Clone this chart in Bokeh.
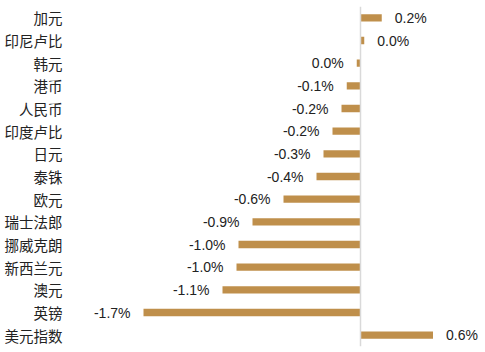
from bokeh.plotting import figure
from bokeh.models import ColumnDataSource, FactorRange, Range1d, Span
from bokeh.core.properties import value
from bokeh.embed import file_html
from bokeh.resources import INLINE

categories = ["加元", "印尼卢比", "韩元", "港币", "人民币", "印度卢比", "日元", "泰铢",
              "欧元", "瑞士法郎", "挪威克朗", "新西兰元", "澳元", "英镑", "美元指数"]
changes = [0.17, 0.03, -0.03, -0.11, -0.152, -0.224, -0.296, -0.352,
           -0.616, -0.864, -0.976, -0.992, -1.104, -1.736, 0.58]


def fmt(v):
    s = f"{v:.1f}"
    if s == "-0.0":
        s = "0.0"
    return s + "%"


labels = [fmt(v) for v in changes]
offsets = [13 if v >= 0 else -13 for v in changes]
aligns = ["left" if v >= 0 else "right" for v in changes]

src = ColumnDataSource(dict(cat=categories, val=changes, lab=labels,
                            off=offsets, al=aligns))

p = figure(width=485, height=352, output_backend="svg", toolbar_location=None,
           y_range=FactorRange(factors=list(reversed(categories))),
           x_range=Range1d(-2.32, 1.0),
           min_border_left=70, min_border_right=0, min_border_top=6, min_border_bottom=6)

p.hbar(y="cat", left=0, right="val", height=0.32, source=src,
       fill_color="#BF8F4B", line_color=None)

p.add_layout(Span(location=0, dimension="height", line_color="#d9d9d9", line_width=1.5))

p.text(x="val", y="cat", text="lab", x_offset="off", text_align="al",
       text_baseline="middle", source=src,
       text_font=value("Liberation Sans"), text_font_size="14px", text_color="#222222")

p.xaxis.visible = False
p.yaxis.axis_line_color = None
p.yaxis.major_tick_line_color = None
p.yaxis.minor_tick_line_color = None
p.yaxis.major_tick_out = 0
p.yaxis.major_tick_in = 0
p.yaxis.major_label_standoff = 8
p.yaxis.major_label_text_font = "Noto Sans CJK SC"
p.yaxis.major_label_text_font_size = "14.5px"
p.yaxis.major_label_text_color = "#222222"
p.xgrid.visible = False
p.ygrid.visible = False
p.outline_line_color = None

open("out.html", "w").write(file_html(p, INLINE))
